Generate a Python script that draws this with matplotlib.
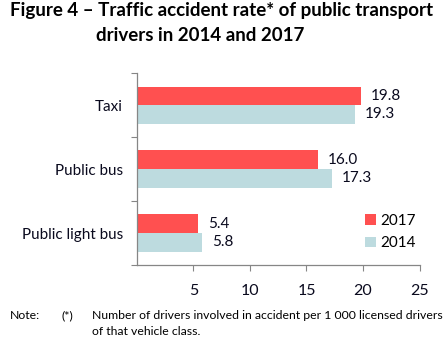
import matplotlib.pyplot as plt
import numpy as np

plt.rcParams['font.family'] = ['Lato', 'DejaVu Sans']

categories = ['Taxi', 'Public bus', 'Public light bus']
rate_2017 = [19.8, 16.0, 5.4]
rate_2014 = [19.3, 17.3, 5.8]
xticks = [5, 10, 15, 20, 25]

red = '#FF5050'
blue = '#BDDBDF'
ink = '#0A0A1E'
axis_grey = '#868686'

fig = plt.figure(figsize=(4.46, 3.48), dpi=100)
ax = fig.add_axes([0.307, 0.2385, 0.6336, 0.5515])

pos = np.arange(len(categories))[::-1]
h = 0.29
ax.barh(pos + h / 2, rate_2017, height=h, color=red, label='2017')
ax.barh(pos - h / 2, rate_2014, height=h, color=blue, label='2014')

for y, v in zip(pos, rate_2017):
    ax.annotate(f'{v:.1f}', (v, y + h / 2), xytext=(7, 0), textcoords='offset points',
                va='center', ha='left', fontsize=11, color=ink)
for y, v in zip(pos, rate_2014):
    ax.annotate(f'{v:.1f}', (v, y - h / 2), xytext=(7, 0), textcoords='offset points',
                va='center', ha='left', fontsize=11, color=ink)

ax.set_xlim(0, 25)
ax.set_ylim(-0.5, 2.5)
ax.set_xticks(xticks)
ax.set_xticklabels([str(t) for t in xticks], fontsize=11.5, color=ink)

# category labels sit between the boundary ticks
ax.set_yticks([-0.5, 0.5, 1.5, 2.5])
ax.set_yticklabels([])
ax.set_yticks(pos, minor=True)
ax.set_yticklabels(categories, minor=True, fontsize=11, color=ink)
ax.tick_params(axis='y', which='minor', length=0, pad=10)
ax.tick_params(axis='y', which='major', length=4, color=axis_grey, direction='out')
ax.tick_params(axis='x', length=4, color=axis_grey, direction='out', pad=10)

for s in ['top', 'right']:
    ax.spines[s].set_visible(False)
for s in ['left', 'bottom']:
    ax.spines[s].set_color(axis_grey)
    ax.spines[s].set_linewidth(0.9)

leg = ax.legend(loc='lower right', bbox_to_anchor=(1.035, 0.005), frameon=False,
                fontsize=11, handlelength=0.7, handleheight=0.7, handletextpad=0.3,
                labelspacing=0.55)

fig.text(0.022, 0.993, 'Figure 4 \u2013 Traffic accident rate* of public transport',
         ha='left', va='top', fontsize=13.5, fontweight='bold', color='black')
fig.text(0.215, 0.923, 'drivers in 2014 and 2017',
         ha='left', va='top', fontsize=13.5, fontweight='bold', color='black')

fig.text(0.022, 0.092, 'Note:', fontsize=8.8, va='center')
fig.text(0.139, 0.092, '(*)', fontsize=8.8, va='center')
fig.text(0.206, 0.092, 'Number of drivers involved in accident per 1 000 licensed drivers',
         fontsize=8.8, va='center')
fig.text(0.206, 0.046, 'of that vehicle class.', fontsize=8.8, va='center')

fig.savefig('out.png', dpi=100)
